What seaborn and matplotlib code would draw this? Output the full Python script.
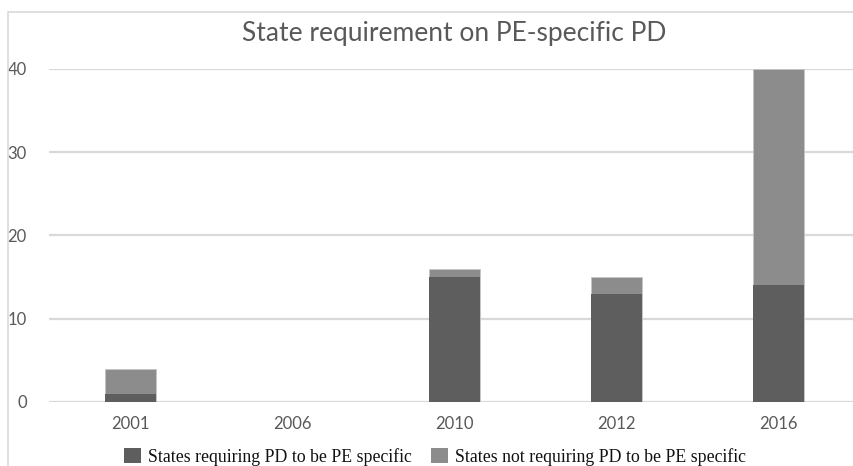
import matplotlib
matplotlib.use("Agg")
import matplotlib.pyplot as plt
from matplotlib.patches import Patch, Rectangle
import seaborn as sns
import pandas as pd

years = ["2001", "2006", "2010", "2012", "2016"]
requiring = [1, 0, 15, 13, 14]
not_requiring = [3, 0, 1, 2, 26]
yticks = [0, 10, 20, 30, 40]

title = "State requirement on PE-specific PD"
label_req = "States requiring PD to be PE specific"
label_not = "States not requiring PD to be PE specific"

dark = "#5e5e5e"
light = "#8c8c8c"
text_gray = "#595959"
grid_gray = "#d9d9d9"

df = pd.DataFrame({"year": years, "requiring": requiring, "not_requiring": not_requiring})
df["total"] = df["requiring"] + df["not_requiring"]

sns.set_theme(style="white")
plt.rcParams["font.family"] = ["Lato", "DejaVu Sans"]

W, H = 854, 466
fig = plt.figure(figsize=(W / 100, H / 100), dpi=100)

# plot region in pixels: left 49, right 860, y=40 at 69, y=0 at 402
left, right = 49, 860
y_top_px, y_zero_px = 69, 402
ymax = 40
ax = fig.add_axes([left / W, 1 - y_zero_px / H, (right - left) / W, (y_zero_px - y_top_px) / H])

sns.barplot(data=df, x="year", y="total", color=light, width=0.315, saturation=1,
            edgecolor="#c4c4c4", linewidth=0.6, ax=ax, zorder=3)
sns.barplot(data=df, x="year", y="requiring", color=dark, width=0.315, saturation=1,
            edgecolor="none", linewidth=0, ax=ax, zorder=4)

ax.set_xlim(-0.5, 4.5)
ax.set_ylim(0, ymax)
ax.set_yticks(yticks)
ax.set_yticklabels([str(v) for v in yticks])
ax.yaxis.grid(True, color=grid_gray, linewidth=1.6)
ax.set_axisbelow(True)
for s in ax.spines.values():
    s.set_visible(False)
ax.set_xlabel("")
ax.set_ylabel("")
ax.tick_params(axis="x", length=0, pad=10, labelsize=12, labelcolor=text_gray)
ax.tick_params(axis="y", length=0, pad=16, labelsize=12, labelcolor=text_gray)

fig.text((left + right) / 2 / W, 1 - 33 / H, title, ha="center", va="center",
         fontsize=19, color=text_gray)

handles = [Patch(facecolor=dark, edgecolor="none"), Patch(facecolor=light, edgecolor="none")]
fig.legend(handles, [label_req, label_not], loc="center", bbox_to_anchor=(435 / W, 1 - 457 / H),
           ncol=2, frameon=False, prop={"family": "Liberation Serif", "size": 12.8},
           handlelength=0.95, handleheight=0.95, handletextpad=0.4, columnspacing=1.1,
           labelcolor="#111111", borderaxespad=0, borderpad=0)

# outer chart frame
fig.patches.append(Rectangle((8 / W, -0.1), 1.2, 1 - 12 / H + 0.1, transform=fig.transFigure,
                             fill=False, edgecolor="#d9d9d9", linewidth=1.2))

fig.savefig("out.png", dpi=100, facecolor="white")
